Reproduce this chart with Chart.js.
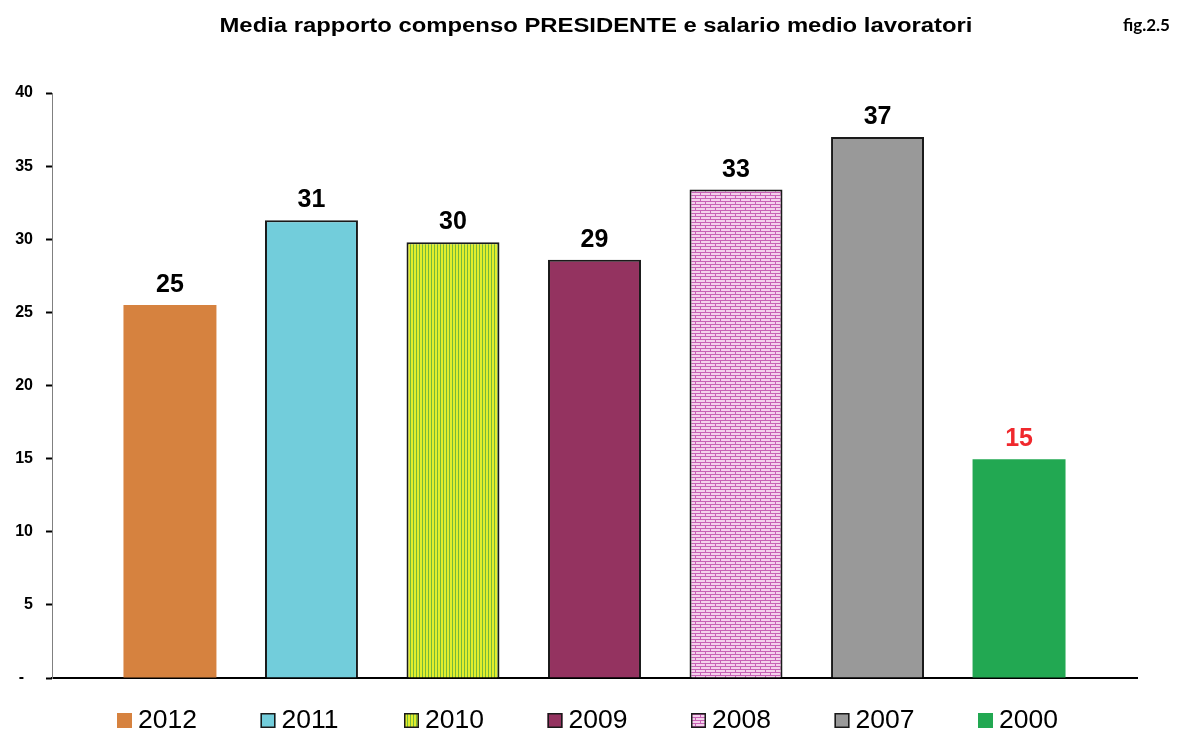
<!DOCTYPE html>
<html>
<head>
<meta charset="utf-8">
<script src="https://cdn.jsdelivr.net/npm/chart.js@4"></script>
<style>
    body { margin: 0; background: #fff; }
</style>
</head>
<body>
<canvas id="canvas1" width="1180" height="731"></canvas>
<script>
// data
let years = ['2012', '2011', '2010', '2009', '2008', '2007', '2000'];
let ratios = [25.5, 31.3, 29.8, 28.6, 33.4, 37.0, 14.95];
let shownLabels = ['25', '31', '30', '29', '33', '37', '15'];
let yTickLabels = ['-  ', '5', '10', '15', '20', '25', '30', '35', '40'];

let titleText = 'Media rapporto compenso PRESIDENTE e salario medio lavoratori';
let figText = 'fig.2.5';

// patterns
function stripes() {
    let c = document.createElement('canvas');
    c.width = 3; c.height = 4;
    let g = c.getContext('2d');
    g.fillStyle = '#e2ee2c';
    g.fillRect(0, 0, 3, 4);
    g.fillStyle = '#74b83c';
    g.fillRect(2, 0, 1, 4);
    return g.createPattern(c, 'repeat');
}

function bricks() {
    let c = document.createElement('canvas');
    c.width = 10; c.height = 6;
    let g = c.getContext('2d');
    g.fillStyle = '#f4d2ec';
    g.fillRect(0, 0, 10, 6);
    g.fillStyle = '#c862b6';
    g.fillRect(0, 0, 10, 1);
    g.fillRect(0, 3, 10, 1);
    g.fillRect(0, 1, 1, 2);
    g.fillRect(5, 4, 1, 2);
    return g.createPattern(c, 'repeat');
}

let fills = ['#d6823f', '#72cddb', stripes(), '#943360', bricks(), '#999999', '#22a852'];
let borders = [0, 2, 2, 2, 2, 2, 0];
let labelColors = ['#000', '#000', '#000', '#000', '#000', '#000', '#f0282d'];

let datasets = years.map((y, i) => ({
    label: y,
    data: [ratios[i]],
    backgroundColor: fills[i],
    borderColor: '#1a1a1a',
    borderWidth: borders[i],
}));

// value labels, legend, title
let extras = {
    id: 'extras',
    afterDatasetsDraw(chart) {
        let ctx = chart.ctx;
        ctx.save();
        ctx.font = 'bold 25px "Liberation Sans", Arial, sans-serif';
        ctx.textAlign = 'center';
        ctx.textBaseline = 'alphabetic';
        chart.data.datasets.forEach((ds, i) => {
            let bar = chart.getDatasetMeta(i).data[0];
            ctx.fillStyle = labelColors[i];
            ctx.fillText(shownLabels[i], bar.x, bar.y - 13);
        });
        ctx.restore();
    },
    afterDraw(chart) {
        let ctx = chart.ctx;
        ctx.save();

        // legend
        ctx.font = '26.5px "Liberation Sans", Arial, sans-serif';
        ctx.textBaseline = 'alphabetic';
        ctx.textAlign = 'left';
        chart.data.datasets.forEach((ds, i) => {
            let x = 117 + i * 143.5;
            ctx.fillStyle = ds.backgroundColor;
            ctx.fillRect(x, 713, 15, 15);
            if (ds.borderWidth) {
                ctx.strokeStyle = ds.borderColor;
                ctx.lineWidth = 1.5;
                ctx.strokeRect(x + 0.75, 713.75, 13.5, 13.5);
            }
            ctx.fillStyle = '#000';
            ctx.fillText(ds.label, x + 21, 728);
        });

        // title
        ctx.font = 'bold 20px "Liberation Sans", Arial, sans-serif';
        ctx.textAlign = 'center';
        let w = ctx.measureText(titleText).width;
        ctx.translate(596, 32);
        ctx.scale(753 / w, 1);
        ctx.fillStyle = '#000';
        ctx.fillText(titleText, 0, 0);
        ctx.setTransform(1, 0, 0, 1, 0, 0);

        ctx.font = 'bold 17px Lato, "Open Sans", sans-serif';
        ctx.textAlign = 'left';
        ctx.fillText(figText, 1123, 31);
        ctx.restore();
    }
};

let config = {
    type: 'bar',
    data: {
        labels: [''],
        datasets: datasets
    },
    options: {
        responsive: false,
        animation: false,
        layout: {
            padding: {top: 93, right: 43, bottom: 53, left: 0}
        },
        datasets: {
            bar: {
                categoryPercentage: 0.913,
                barPercentage: 0.657
            }
        },
        plugins: {
            legend: {display: false},
            title: {display: false},
            tooltip: {enabled: false}
        },
        scales: {
            x: {
                grid: {display: false},
                ticks: {display: false},
                border: {color: '#000', width: 2},
                afterFit: s => { s.height = 0; }
            },
            y: {
                min: 0,
                max: 40,
                ticks: {
                    stepSize: 5,
                    padding: 13,
                    color: '#000',
                    font: {family: '"Liberation Sans", Arial, sans-serif', size: 16, weight: 'bold'},
                    callback: v => yTickLabels[v / 5]
                },
                grid: {
                    drawOnChartArea: false,
                    tickLength: 6,
                    tickColor: '#000',
                    tickWidth: 2
                },
                border: {color: '#808080', width: 1},
                afterFit: s => { s.width = 52; }
            }
        }
    },
    plugins: [extras]
};

let myChart = new Chart(document.getElementById('canvas1'), config);
</script>
</body>
</html>
